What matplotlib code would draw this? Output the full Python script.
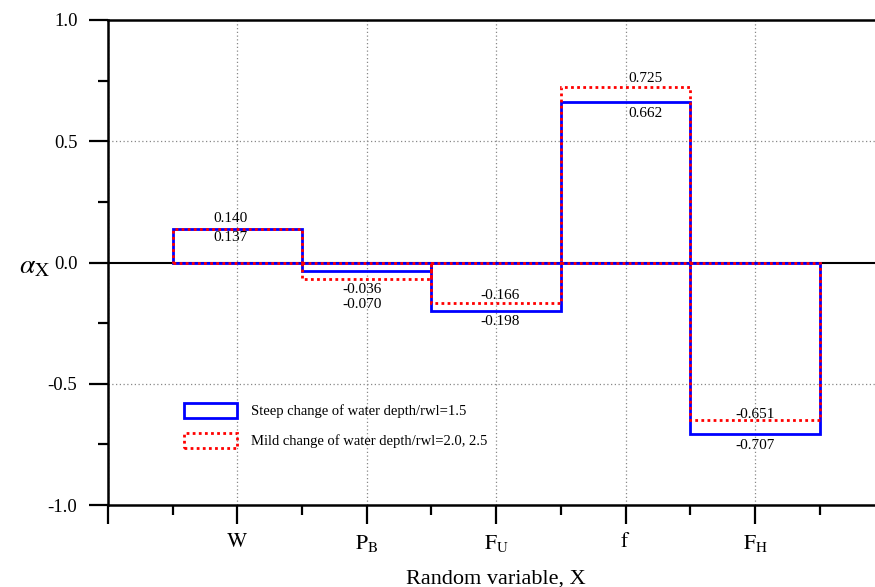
import matplotlib
matplotlib.use("Agg")
import matplotlib.pyplot as plt
import numpy as np

categories = [r"$\mathrm{W}$", r"$\mathrm{P_B}$", r"$\mathrm{F_U}$", r"$\mathrm{f}$", r"$\mathrm{F_H}$"]
steep = [0.140, -0.036, -0.198, 0.662, -0.707]
mild = [0.137, -0.070, -0.166, 0.725, -0.651]
steep_label = "Steep change of water depth/rwl=1.5"
mild_label = "Mild change of water depth/rwl=2.0, 2.5"

plt.rcParams['font.family'] = ['Liberation Serif', 'DejaVu Serif']
plt.rcParams['mathtext.fontset'] = 'stix'

fig = plt.figure(figsize=(8.75, 5.87), dpi=100)
W, H = 875, 587
left, right, top, bottom = 108, 884.4, 20, 505
ax = fig.add_axes([left / W, 1 - bottom / H, (right - left) / W, (bottom - top) / H])

x = np.arange(1, len(categories) + 1)
ax.axhline(0, color='black', lw=1.5, zorder=1)
ax.bar(x, steep, width=1.0, facecolor='none', edgecolor='#0000ff', lw=2.0,
       label=steep_label, zorder=3)
ax.bar(x, mild, width=1.0, facecolor='none', edgecolor='#ff0000', lw=2.0,
       linestyle=(0, (1, 1.2)), label=mild_label, zorder=4)

lab_dx = [-0.05, -0.04, 0.03, 0.15, 0.0]

def put(xv, yv, txt, offset):
    ax.annotate(txt, (xv, yv), xytext=(0, offset), textcoords='offset points',
                ha='center', va='center', fontsize=11, zorder=6)

# W
put(x[0] + lab_dx[0], steep[0], f"{steep[0]:.3f}", 7)
put(x[0] + lab_dx[0], mild[0], f"{mild[0]:.3f}", -6)
# P_B (both below the red line)
put(x[1] + lab_dx[1], mild[1], f"{steep[1]:.3f}", -7)
put(x[1] + lab_dx[1], mild[1], f"{mild[1]:.3f}", -18)
# F_U
put(x[2] + lab_dx[2], mild[2], f"{mild[2]:.3f}", 5)
put(x[2] + lab_dx[2], steep[2], f"{steep[2]:.3f}", -8)
# f
put(x[3] + lab_dx[3], mild[3], f"{mild[3]:.3f}", 6)
put(x[3] + lab_dx[3], steep[3], f"{steep[3]:.3f}", -8)
# F_H
put(x[4] + lab_dx[4], mild[4], f"{mild[4]:.3f}", 4)
put(x[4] + lab_dx[4], steep[4], f"{steep[4]:.3f}", -8)

ax.set_xlim(0, 6)
ax.set_ylim(-1.0, 1.0)
ax.set_xticks(np.arange(0, 6))
ax.set_xticklabels([""] + categories)
ax.set_xticks(np.arange(0.5, 6, 1.0), minor=True)
ax.set_yticks([-1.0, -0.5, 0.0, 0.5, 1.0])
ax.set_yticklabels(["-1.0", "-0.5", "0.0", "0.5", "1.0"])
ax.set_yticks(np.arange(-0.75, 1.0, 0.5), minor=True)

ax.tick_params(axis='both', which='major', direction='out', length=14, width=1.6,
               labelsize=13.5, color='black')
ax.tick_params(axis='y', which='major', pad=8)
ax.tick_params(axis='x', which='major', pad=6, labelsize=15.5)
ax.tick_params(axis='both', which='minor', direction='out', length=7.5, width=1.6)

for side in ['left', 'bottom', 'top', 'right']:
    ax.spines[side].set_linewidth(1.8)

ax.grid(True, which='major', axis='x', linestyle=(0, (1, 2)), color='#888888', lw=0.9)
for yv in [0.5, -0.5]:
    ax.axhline(yv, linestyle=(0, (1, 2)), color='#888888', lw=0.9, zorder=0)
ax.set_axisbelow(True)

ax.set_xlabel("Random variable, X", fontsize=16, labelpad=11)
ax.set_ylabel(r"$\alpha_{\rm X}$", fontsize=20, rotation=0, labelpad=8, va='center')
ax.yaxis.set_label_coords(-0.094, 0.49)

leg = ax.legend(loc='upper left', bbox_to_anchor=(183 / W - 0.012, 1 - 391 / H), bbox_transform=fig.transFigure,
                frameon=False, fontsize=10.5, handlelength=3.6, handleheight=1.2,
                labelspacing=1.0, handletextpad=1.0, borderpad=0.3)

fig.savefig("out.png", dpi=100)
